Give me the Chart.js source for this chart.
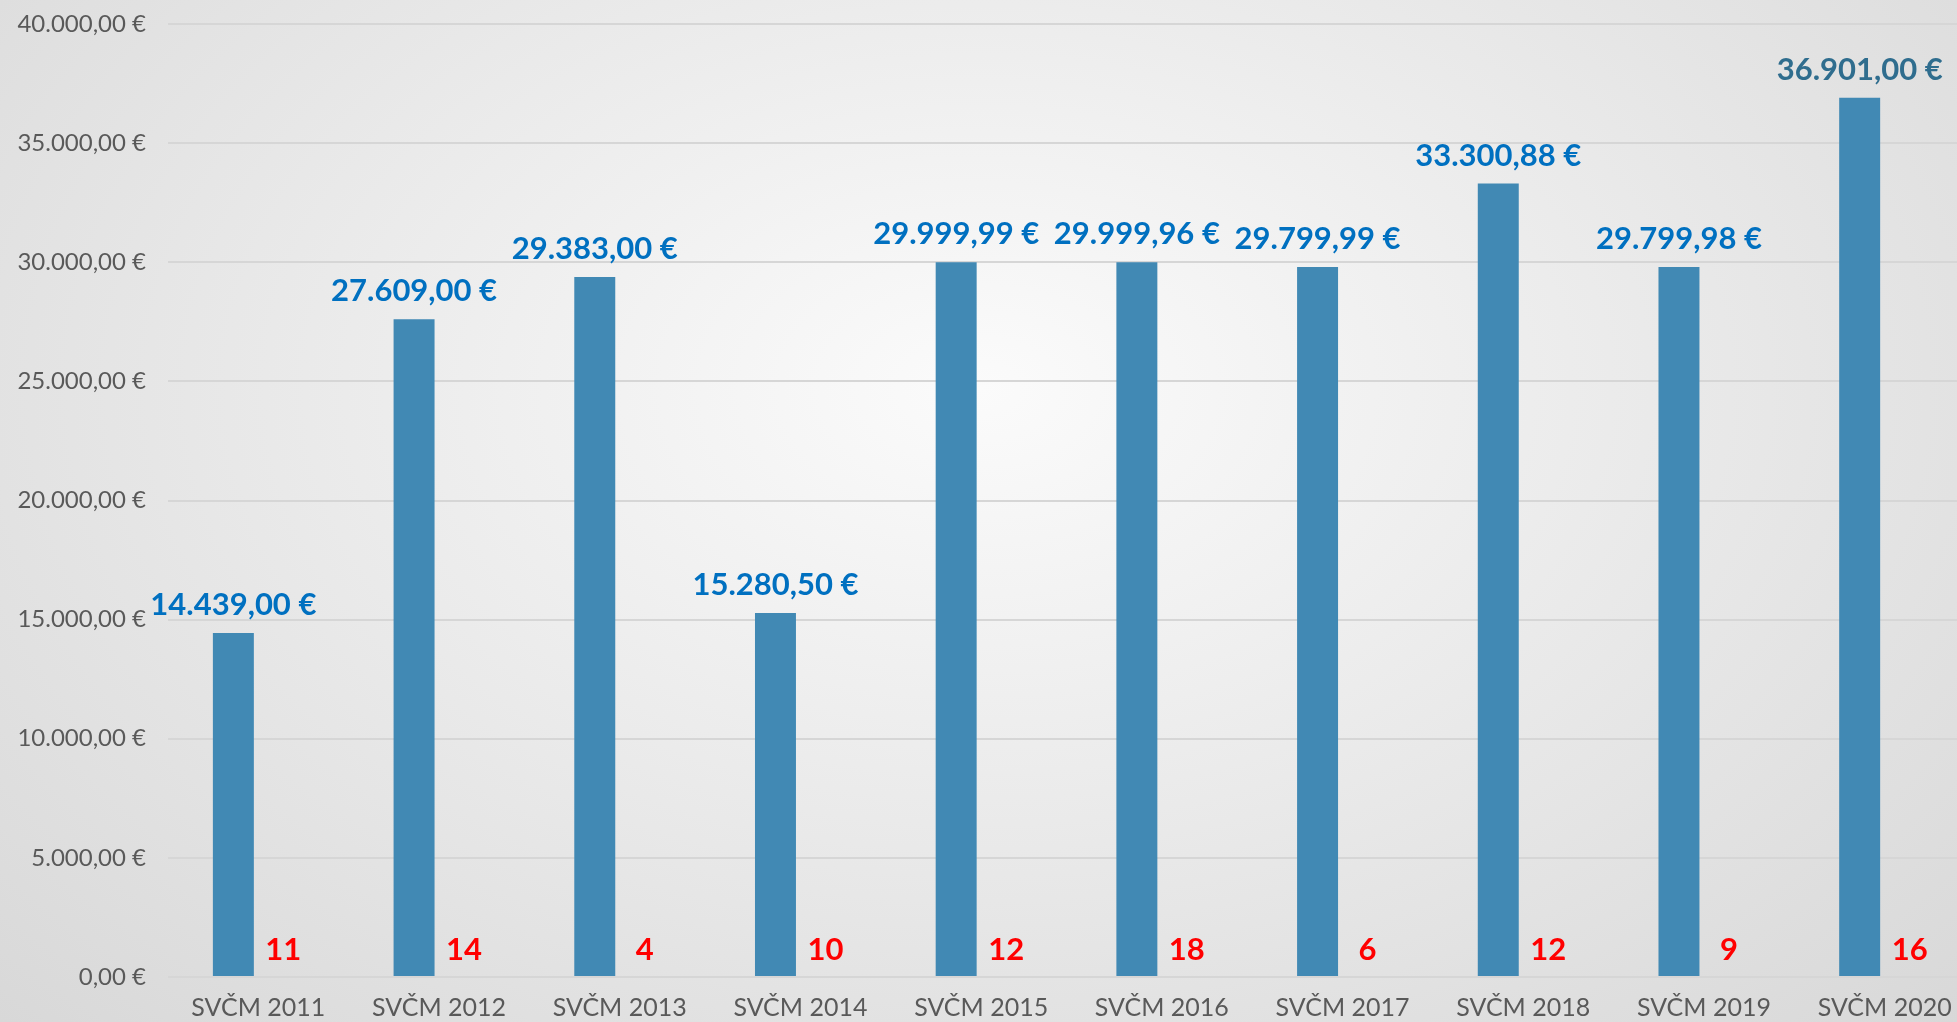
<!DOCTYPE html>
<html>
<head>
<meta charset="utf-8">
<script src="https://cdn.jsdelivr.net/npm/chart.js@4.4.1/dist/chart.umd.min.js"></script>
<style>
  html, body {
    margin: 0; padding: 0; width: 1957px; height: 1022px; overflow: hidden;
    background: radial-gradient(ellipse farthest-corner at 50% 38%, #fbfbfb 0%, #ededed 40%, #d8d8d8 100%);
  }
  #wrap { position: absolute; left: 0; top: 0; width: 1990px; height: 1022px; }
</style>
</head>
<body>
<div id="wrap"><canvas id="chart"></canvas></div>
<script>
'use strict';

// ── Data ──────────────────────────────────────────────
const CATEGORIES = ['SVČM 2011', 'SVČM 2012', 'SVČM 2013', 'SVČM 2014', 'SVČM 2015',
                    'SVČM 2016', 'SVČM 2017', 'SVČM 2018', 'SVČM 2019', 'SVČM 2020'];
const AMOUNTS    = [14439.00, 27609.00, 29383.00, 15280.50, 29999.99,
                    29999.96, 29799.99, 33300.88, 29799.98, 36901.00];
const COUNTS     = [11, 14, 4, 10, 12, 18, 6, 12, 9, 16];
const Y_MAX      = 40000;
const Y_STEP     = 5000;

// ── Helpers ───────────────────────────────────────────
function fmtEuro(v) {
  const [int, dec] = v.toFixed(2).split('.');
  return `${int.replace(/\B(?=(\d{3})+(?!\d))/g, '.')},${dec} €`;
}

const FONT = 'Lato, "Open Sans", sans-serif';

// draws the value labels above each bar (amounts in blue, counts in red)
const valueLabels = {
  id: 'valueLabels',
  afterDatasetsDraw(chart) {
    const ctx = chart.ctx;
    chart.data.datasets.forEach((ds, di) => {
      const meta = chart.getDatasetMeta(di);
      meta.data.forEach((bar, i) => {
        const v = ds.data[i];
        ctx.save();
        ctx.font = `bold 31px ${FONT}`;
        ctx.textAlign = 'center';
        ctx.textBaseline = 'alphabetic';
        if (di === 0) {
          ctx.fillStyle = i === ds.data.length - 1 ? '#2f6d8e' : '#0070c0';
          ctx.fillText(fmtEuro(v), bar.x, bar.y - 18);
        } else {
          ctx.fillStyle = '#ff0000';
          ctx.fillText(String(v), bar.x, bar.y - 17);
        }
        ctx.restore();
      });
    });
  },
};

new Chart(document.getElementById('chart'), {
  type: 'bar',
  data: {
    labels: CATEGORIES,
    datasets: [
      {
        label: 'Iznos',
        data: AMOUNTS,
        backgroundColor: '#4189b4',
        categoryPercentage: 0.553,
        barPercentage: 0.82,
      },
      {
        label: 'Broj',
        data: COUNTS,
        backgroundColor: 'rgba(0,0,0,0)',
        categoryPercentage: 0.553,
        barPercentage: 0.82,
      },
    ],
  },
  options: {
    responsive: true,
    maintainAspectRatio: false,
    animation: false,
    layout: { padding: { top: 24, right: 15, left: 0, bottom: 0 } },
    plugins: {
      legend: { display: false },
      tooltip: { enabled: false },
    },
    scales: {
      x: {
        grid: { display: false },
        border: { display: false },
        ticks: {
          color: '#595959',
          font: { family: FONT, size: 25 },
          padding: 8,
          maxRotation: 0,
        },
        afterFit: (s) => { s.height = 45; },
      },
      y: {
        min: 0,
        max: Y_MAX,
        border: { display: false },
        grid: { color: '#d6d6d6', lineWidth: 2, drawTicks: false },
        ticks: {
          stepSize: Y_STEP,
          color: '#595959',
          font: { family: FONT, size: 24 },
          padding: 22,
          callback: (v) => fmtEuro(v),
        },
        afterFit: (s) => { s.width = 168; s.paddingTop = 0; s.paddingBottom = 0; },
      },
    },
  },
  plugins: [valueLabels],
});
</script>
</body>
</html>
